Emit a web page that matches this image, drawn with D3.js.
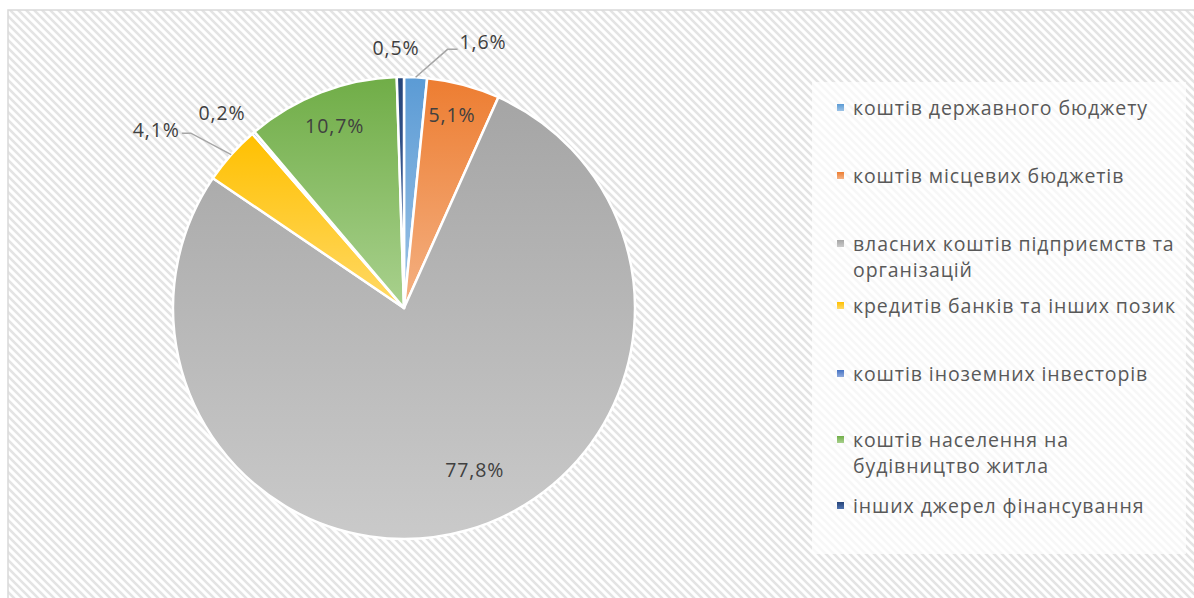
<!DOCTYPE html>
<html>
<head>
<meta charset="utf-8">
<script src="https://cdn.jsdelivr.net/npm/d3@7"></script>
<style>
  html, body { margin: 0; padding: 0; background: #fff; }
  svg { display: block; }
</style>
</head>
<body>
<svg id="chart" width="1194" height="598"></svg>
<script>
// data
const categories = [
  "коштів державного бюджету",
  "коштів місцевих бюджетів",
  "власних коштів підприємств та\nорганізацій",
  "кредитів банків та інших позик",
  "коштів іноземних інвесторів",
  "коштів населення на\nбудівництво житла",
  "інших джерел фінансування"
];
const values = [1.6, 5.1, 77.8, 4.1, 0.2, 10.7, 0.5];
const valueLabels = ["1,6%", "5,1%", "77,8%", "4,1%", "0,2%", "10,7%", "0,5%"];
const colors = ["#5B9BD5", "#ED7D31", "#A5A5A5", "#FFC000", "#4472C4", "#70AD47", "#264478"];
const lightColors = ["#9DC3E6", "#F4B183", "#CACACA", "#FFD966", "#8FAADC", "#A9D18E", "#4F73B0"];

// layout
const W = 1194, H = 598;
const cx = 404, cy = 308, R = 231;
const font = "'Open Sans', sans-serif";
const fontSize = 19.5, spacing = 0.9;
// label placement: radius factor, angle nudge, leader line side
const labelPlace = [
  {r: 1.2, da: 0.239, leader: "right"},
  {r: 0.86, da: -0.017},
  {r: 0.766, da: -0.135},
  {r: 1.32, da: -0.103, leader: "left"},
  {r: 1.155, da: -0.041},
  {r: 0.844, da: 0.004},
  {r: 1.126, da: -0.015}
];
const legendX = 837, legendRowY = [108, 176, 244, 306, 374, 440, 506], lineH = 26;

const svg = d3.select("#chart");
const defs = svg.append("defs");

const pat = defs.append("pattern")
    .attr("id", "hatch")
    .attr("patternUnits", "userSpaceOnUse")
    .attr("width", 8).attr("height", 8);
pat.append("rect").attr("width", 8).attr("height", 8).attr("fill", "#fff");
pat.append("path")
    .attr("d", "M-2,-2L10,10M-2,6L2,10M6,-2L10,2")
    .attr("stroke", "#e4e4e4")
    .attr("stroke-width", 2.6);

colors.forEach((c, i) => {
  const g = defs.append("linearGradient")
      .attr("id", "grad" + i)
      .attr("x1", 0).attr("y1", 0).attr("x2", 0).attr("y2", 1);
  g.append("stop").attr("offset", "0%").attr("stop-color", c);
  g.append("stop").attr("offset", "100%").attr("stop-color", lightColors[i]);
});

// chart area
svg.append("rect")
    .attr("x", 8).attr("y", 10)
    .attr("width", 1200).attr("height", 600)
    .attr("fill", "url(#hatch)")
    .attr("stroke", "#d9d9d9")
    .attr("stroke-width", 1.5);

// pie
const pie = d3.pie().sort(null).value(d => d)(values);
const arc = d3.arc().innerRadius(0).outerRadius(R);

const gPie = svg.append("g").attr("transform", `translate(${cx},${cy})`);
gPie.selectAll("path.slice")
  .data(pie)
  .join("path")
    .attr("class", "slice")
    .attr("d", arc)
    .attr("fill", (d, i) => `url(#grad${i})`)
    .attr("stroke", "#fff")
    .attr("stroke-width", 2.5)
    .attr("stroke-linejoin", "round");

// labels
const polar = (a, r) => [r * Math.sin(a), -r * Math.cos(a)];
pie.forEach((d, i) => {
  const p = labelPlace[i];
  const mid = (d.startAngle + d.endAngle) / 2;
  const [tx, ty] = polar(mid + p.da, R * p.r);
  const t = gPie.append("text")
      .attr("x", tx).attr("y", ty)
      .attr("dy", "0.35em")
      .attr("text-anchor", "middle")
      .attr("font-family", font)
      .attr("font-size", fontSize)
      .attr("letter-spacing", spacing)
      .attr("fill", "#404040")
      .text(valueLabels[i]);
  if (p.leader) {
    const w = t.node().getComputedTextLength();
    const [ex, ey] = polar(mid, R);
    let pts;
    if (p.leader === "right") {
      const lx = tx - w / 2 - 2, ly = ty + 7;
      pts = [[ex, ey], [lx - 10, ly], [lx, ly]];
    } else {
      const lx = tx + w / 2 + 2, ly = ty + 3;
      pts = [[ex, ey], [lx + 9, ly], [lx, ly]];
    }
    gPie.insert("path", "text")
        .attr("d", d3.line()(pts))
        .attr("fill", "none")
        .attr("stroke", "#a6a6a6")
        .attr("stroke-width", 1.5);
  }
});

// legend
svg.append("rect")
    .attr("x", 812).attr("y", 82)
    .attr("width", 374).attr("height", 472)
    .attr("fill", "#fff")
    .attr("fill-opacity", 0.7);

const leg = svg.append("g");
categories.forEach((c, i) => {
  const y = legendRowY[i];
  leg.append("rect")
      .attr("x", legendX).attr("y", y - 4)
      .attr("width", 7).attr("height", 7)
      .attr("fill", `url(#grad${i})`);
  const t = leg.append("text")
      .attr("font-family", font)
      .attr("font-size", fontSize)
      .attr("letter-spacing", spacing)
      .attr("fill", "#595959");
  c.split("\n").forEach((line, k) => {
    t.append("tspan")
        .attr("x", legendX + 16)
        .attr("y", y + k * lineH)
        .attr("dy", "0.35em")
        .text(line);
  });
});
</script>
</body>
</html>
